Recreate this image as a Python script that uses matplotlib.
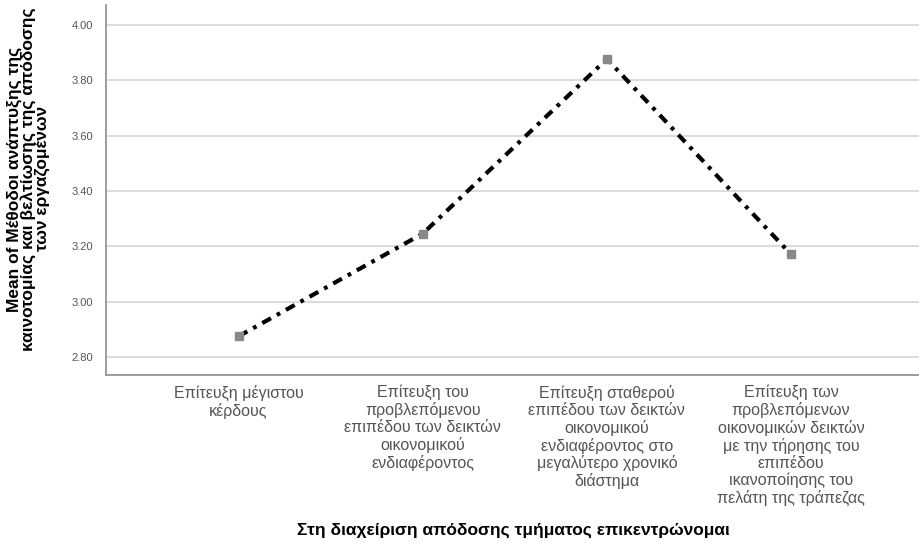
import matplotlib
matplotlib.use("Agg")
import matplotlib.pyplot as plt

plt.rcParams['font.family'] = ['Liberation Sans', 'DejaVu Sans']

# categories and means
categories = [
    "Επίτευξη μέγιστου\nκέρδους",
    "Επίτευξη του\nπροβλεπόμενου\nεπιπέδου των δεικτών\nοικονομικού\nενδιαφέροντος",
    "Επίτευξη σταθερού\nεπιπέδου των δεικτών\nοικονομικού\nενδιαφέροντος στο\nμεγαλύτερο χρονικό\nδιάστημα",
    "Επίτευξη των\nπροβλεπόμενων\nοικονομικών δεικτών\nμε την τήρησης του\nεπιπέδου\nικανοποίησης του\nπελάτη της τράπεζας",
]
means = [2.875, 3.246, 3.877, 3.171]
yticks = [2.80, 3.00, 3.20, 3.40, 3.60, 3.80, 4.00]

fig = plt.figure(figsize=(9.2, 5.47), dpi=100)
ax = fig.add_axes([0.1152, 0.3144, 0.8848, 0.6764])

x = list(range(len(categories)))
ax.plot(x, means, color='black', linestyle='-.', linewidth=3,
        dashes=(2.4, 1.6, 0.9, 1.6), zorder=3)
ax.plot(x, means, linestyle='none', marker='s', markersize=5.5,
        color='#888888', zorder=4)

ax.set_xlim(-0.72, 3.7)
ax.set_ylim(2.735, 4.072)
ax.set_yticks(yticks)
ax.set_yticklabels(["%.2f" % v for v in yticks], fontsize=8, color='#555555')
ax.set_xticks(x)
ax.set_xticklabels(categories, fontsize=11.5, color='#555555', linespacing=1.15)
ax.tick_params(axis='y', length=0, pad=9)
ax.tick_params(axis='x', length=0, pad=7)

ax.grid(axis='y', color='#d9d9d9', linewidth=1.3)
ax.set_axisbelow(True)
for side in ['top', 'right']:
    ax.spines[side].set_visible(False)
for side in ['left', 'bottom']:
    ax.spines[side].set_color('#8c8c8c')
    ax.spines[side].set_linewidth(1.2)

ax.set_ylabel("Mean of Μέθοδοι ανάπτυξης της\nκαινοτομίας και βελτίωσης της απόδοσης\nτων εργαζομένων",
              fontsize=12.5, fontweight='bold', linespacing=0.85)
ax.yaxis.set_label_coords(-0.069, 0.53)
ax.set_xlabel("Στη διαχείριση απόδοσης τμήματος επικεντρώνομαι",
              fontsize=12.5, fontweight='bold', labelpad=12)

fig.savefig("out.png", dpi=100, facecolor='white')
